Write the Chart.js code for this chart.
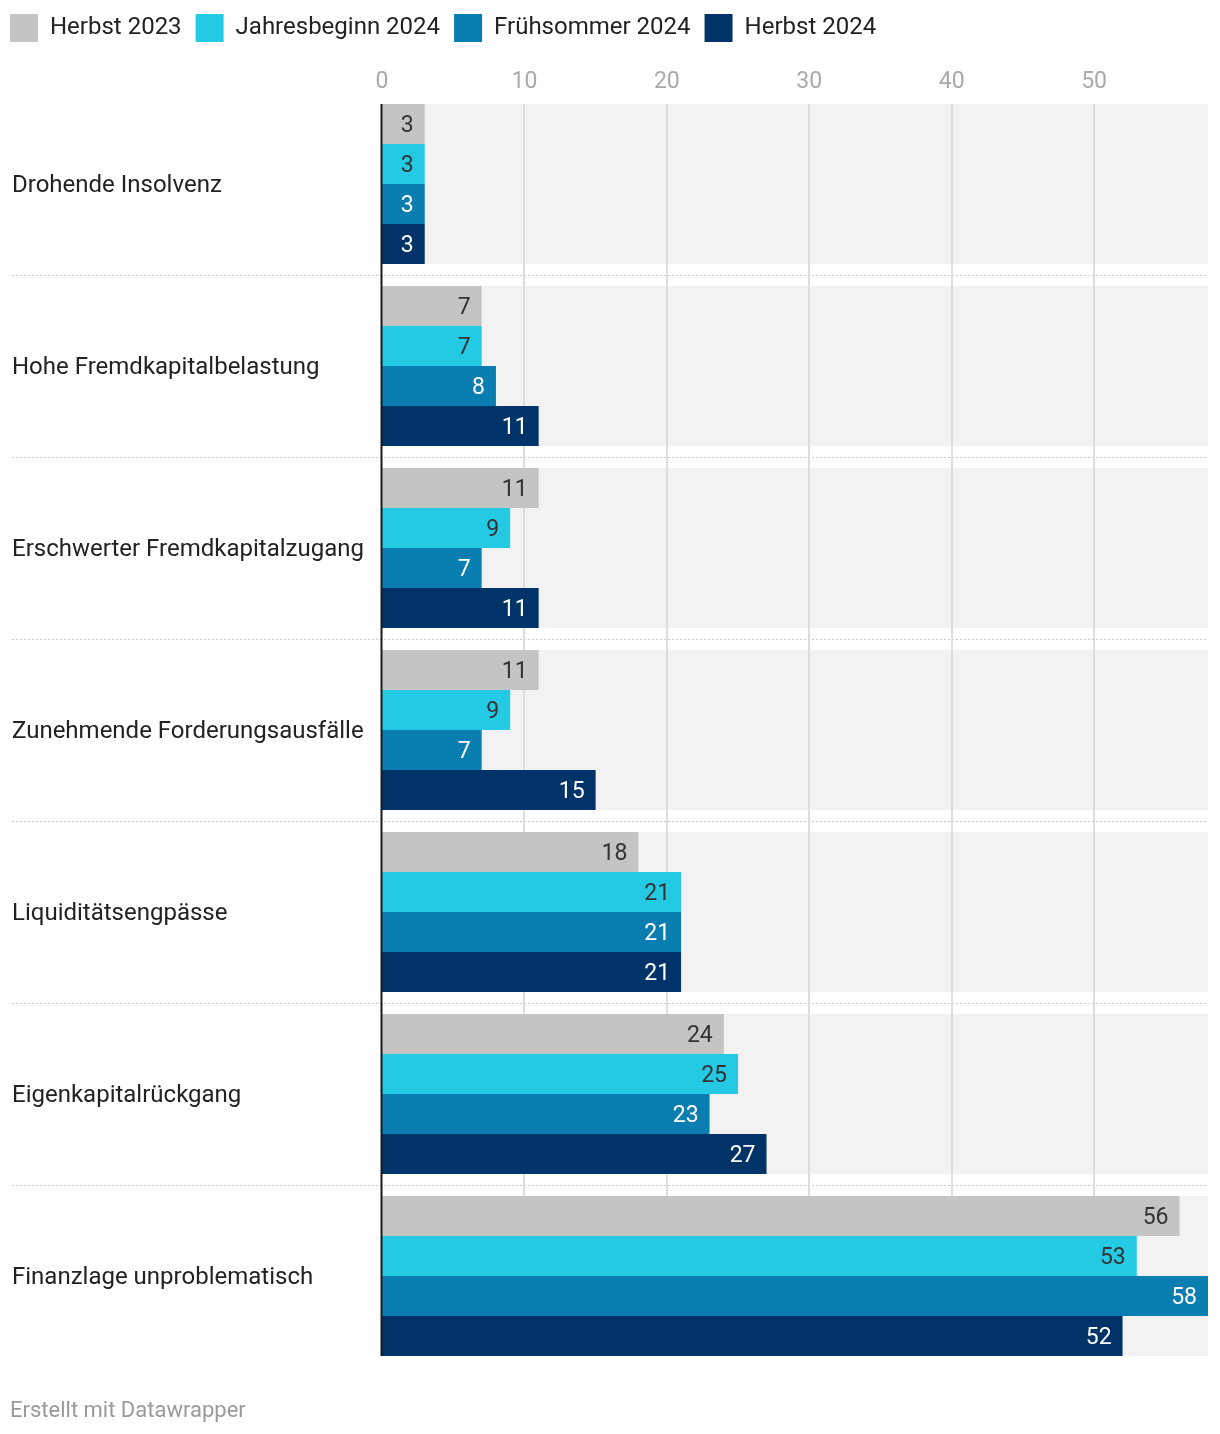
<!DOCTYPE html>
<html>
<head>
<meta charset="utf-8">
<script src="https://cdn.jsdelivr.net/npm/chart.js@4/dist/chart.umd.min.js"></script>
<style>
  html, body { margin: 0; padding: 0; background: #fff; }
  #wrap { width: 1220px; height: 1434px; }
</style>
</head>
<body>
<div id="wrap"><canvas id="c" width="1220" height="1434"></canvas></div>
<script>
const categories = [
  "Drohende Insolvenz",
  "Hohe Fremdkapitalbelastung",
  "Erschwerter Fremdkapitalzugang",
  "Zunehmende Forderungsausfälle",
  "Liquiditätsengpässe",
  "Eigenkapitalrückgang",
  "Finanzlage unproblematisch"
];
const seriesNames = ["Herbst 2023", "Jahresbeginn 2024", "Frühsommer 2024", "Herbst 2024"];
const herbst2023 = [3, 7, 11, 11, 18, 24, 56];
const jahresbeginn2024 = [3, 7, 9, 9, 21, 25, 53];
const fruehsommer2024 = [3, 8, 7, 7, 21, 23, 58];
const herbst2024 = [3, 11, 11, 15, 21, 27, 52];
const xTicks = [0, 10, 20, 30, 40, 50];
const xMax = 58;
const footerText = "Erstellt mit Datawrapper";

const colors = ["#c4c4c4", "#24cae4", "#0a7eb0", "#003468"];
const labelColors = ["#333333", "#333333", "#ffffff", "#ffffff"];
const FONT = "Roboto, 'Noto Sans', sans-serif";
const CHART_TOP = 93;

const backgroundPlugin = {
  id: "bgBands",
  afterLayout(chart) {
    chart.legend.left = -4;
    chart.legend.top = 0;
    if (chart.titleBlock) chart.titleBlock.left = 10;
  },
  beforeDatasetsDraw(chart) {
    const { ctx, chartArea, scales } = chart;
    const y = scales.y, x = scales.x;
    const half = 80;
    ctx.save();
    ctx.fillStyle = "#f2f2f2";
    categories.forEach((c, i) => {
      const cy = y.getPixelForValue(i);
      ctx.fillRect(chartArea.left, cy - half, chartArea.right - chartArea.left, half * 2);
    });
    const top = y.getPixelForValue(0) - half;
    const bottom = y.getPixelForValue(categories.length - 1) + half;
    ctx.strokeStyle = "#c8c8c8";
    ctx.lineWidth = 1;
    ctx.setLineDash([2, 2]);
    for (let i = 0; i < categories.length - 1; i++) {
      const sy = Math.round((y.getPixelForValue(i) + y.getPixelForValue(i + 1)) / 2) + 0.5;
      ctx.beginPath();
      ctx.moveTo(12, sy);
      ctx.lineTo(chartArea.right, sy);
      ctx.stroke();
    }
    ctx.setLineDash([]);
    ctx.strokeStyle = "#dddddd";
    ctx.lineWidth = 2;
    xTicks.forEach(t => {
      if (t === 0) return;
      const gx = Math.round(x.getPixelForValue(t));
      ctx.beginPath();
      ctx.moveTo(gx, top);
      ctx.lineTo(gx, bottom);
      ctx.stroke();
    });
    ctx.restore();
  },
  afterDatasetsDraw(chart) {
    const { ctx, scales } = chart;
    const y = scales.y, x = scales.x;
    const half = 80;
    ctx.save();
    ctx.font = "23px " + FONT;
    ctx.textAlign = "right";
    ctx.textBaseline = "middle";
    chart.data.datasets.forEach((ds, di) => {
      const meta = chart.getDatasetMeta(di);
      meta.data.forEach((el, i) => {
        ctx.fillStyle = labelColors[di];
        ctx.fillText(String(ds.data[i]), el.x - 11, el.y + 2);
      });
    });
    const top = y.getPixelForValue(0) - half;
    const bottom = y.getPixelForValue(categories.length - 1) + half;
    const x0 = x.getPixelForValue(0);
    ctx.strokeStyle = "#1a1a1a";
    ctx.lineWidth = 2;
    ctx.beginPath();
    ctx.moveTo(x0 - 0.5, top);
    ctx.lineTo(x0 - 0.5, bottom);
    ctx.stroke();
    ctx.restore();
  }
};

const seriesData = [herbst2023, jahresbeginn2024, fruehsommer2024, herbst2024];

new Chart(document.getElementById("c"), {
  type: "bar",
  data: {
    labels: categories,
    datasets: seriesData.map((d, i) => ({
      label: seriesNames[i],
      data: d,
      backgroundColor: colors[i],
      borderWidth: 0,
      categoryPercentage: 160 / 182,
      barPercentage: 1
    }))
  },
  options: {
    indexAxis: "y",
    responsive: false,
    animation: false,
    devicePixelRatio: 1,
    layout: { padding: { left: 12, right: 12, top: 0, bottom: 0 } },
    plugins: {
      legend: {
        position: "top",
        align: "start",
        labels: {
          boxWidth: 28,
          boxHeight: 28,
          padding: 14,
          color: "#222222",
          font: { family: FONT, size: 24 }
        }
      },
      title: {
        display: true,
        text: footerText,
        position: "bottom",
        align: "start",
        color: "#999999",
        font: { family: FONT, size: 22, weight: "normal" },
        padding: { top: 31.6, bottom: 9 }
      },
      tooltip: { enabled: false }
    },
    scales: {
      x: {
        position: "top",
        min: 0,
        max: xMax,
        grid: { display: false, drawTicks: false },
        border: { display: false },
        afterBuildTicks(scale) {
          scale.ticks = xTicks.map(v => ({ value: v }));
        },
        afterFit(scale) {
          const lg = scale.chart.legend;
          const lh = lg && lg.height ? lg.height : 60;
          scale.height = Math.max(10, CHART_TOP - lh);
        },
        ticks: {
          color: "#aaaaaa",
          font: { family: FONT, size: 23 },
          padding: -3
        }
      },
      y: {
        grid: { display: false, drawTicks: false },
        border: { display: false },
        afterFit(scale) { scale.width = 370; },
        ticks: {
          crossAlign: "far",
          color: "#222222",
          font: { family: FONT, size: 24 },
          padding: 0,
          labelOffset: 2
        }
      }
    }
  },
  plugins: [backgroundPlugin]
});
</script>
</body>
</html>
